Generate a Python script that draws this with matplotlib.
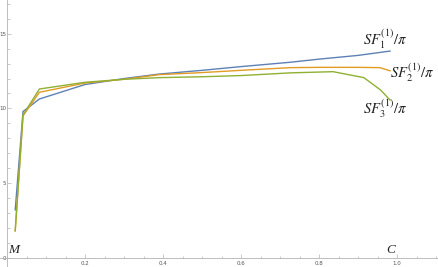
import matplotlib
matplotlib.use("Agg")
import matplotlib.pyplot as plt
from matplotlib.ticker import MultipleLocator, FixedLocator

plt.rcParams['mathtext.fontset'] = 'stix'

x_blue = [0.021, 0.041, 0.083, 0.2, 0.3, 0.39, 0.5, 0.6, 0.726, 0.8, 0.9, 0.982]
y_blue = [3.2, 9.79, 10.63, 11.6, 12.0, 12.3, 12.55, 12.8, 13.09, 13.3, 13.55, 13.84]

x_orange = [0.021, 0.041, 0.083, 0.2, 0.3, 0.39, 0.5, 0.6, 0.726, 0.8, 0.9, 0.956, 0.982]
y_orange = [1.8, 9.5, 11.08, 11.7, 11.95, 12.26, 12.4, 12.55, 12.73, 12.75, 12.75, 12.73, 12.52]

x_green = [0.021, 0.041, 0.083, 0.2, 0.3, 0.39, 0.5, 0.6, 0.726, 0.836, 0.915, 0.958, 0.982]
y_green = [1.8, 9.56, 11.3, 11.75, 11.95, 12.06, 12.12, 12.2, 12.38, 12.46, 12.06, 11.23, 10.56]

series_labels = [r'$SF_1^{(1)}/\pi$', r'$SF_2^{(1)}/\pi$', r'$SF_3^{(1)}/\pi$']
colors = ['#5E81B5', '#E19C24', '#8FB032']
x_ticks = [0.2, 0.4, 0.6, 0.8, 1.0]
x_tick_labels = ['0.2', '0.4', '0.6', '0.8', '1.0']
y_ticks = [0, 5, 10, 15]
y_tick_labels = ['0', '5', '10', '15']

fig = plt.figure(figsize=(4.38, 2.67), dpi=100)
ax = fig.add_axes([0, 0, 1, 1])
ax.set_xlim(-0.018, 1.105)
ax.set_ylim(-0.62, 17.26)

for xs, ys, c in zip([x_blue, x_orange, x_green], [y_blue, y_orange, y_green], colors):
    ax.plot(xs, ys, color=c, lw=1.0, solid_joinstyle='miter')

for sp in ['top', 'right']:
    ax.spines[sp].set_visible(False)
ax.spines['left'].set_position(('data', 0))
ax.spines['bottom'].set_position(('data', 0))
for sp in ['left', 'bottom']:
    ax.spines[sp].set_color('#b3b3b3')
    ax.spines[sp].set_linewidth(0.6)

ax.xaxis.set_major_locator(FixedLocator(x_ticks))
ax.set_xticklabels(x_tick_labels)
ax.xaxis.set_minor_locator(MultipleLocator(0.05))
ax.yaxis.set_major_locator(FixedLocator(y_ticks))
ax.set_yticklabels(y_tick_labels)
ax.yaxis.set_minor_locator(MultipleLocator(1))
ax.tick_params(which='both', direction='in', color='#b3b3b3', width=0.5,
               labelsize=4, labelcolor='#555555')
ax.tick_params(which='major', length=3)
ax.tick_params(which='minor', length=1.8)
ax.tick_params(axis='x', pad=2)
ax.tick_params(axis='y', pad=0.8)

ax.text(0.003, 0.15, 'M', family='Liberation Serif', style='italic', fontsize=9.5,
        ha='left', va='bottom', color='#222222')
ax.text(0.985, 0.15, 'C', family='Liberation Serif', style='italic', fontsize=9.5,
        ha='center', va='bottom', color='#222222')

ax.text(0.912, 14.6, series_labels[0], fontsize=10.5, ha='left', va='center', color='#222222')
ax.text(0.982, 12.4, series_labels[1], fontsize=10.5, ha='left', va='center', color='#222222')
ax.text(0.912, 10.0, series_labels[2], fontsize=10.5, ha='left', va='center', color='#222222')

fig.savefig('out.png', dpi=100)
